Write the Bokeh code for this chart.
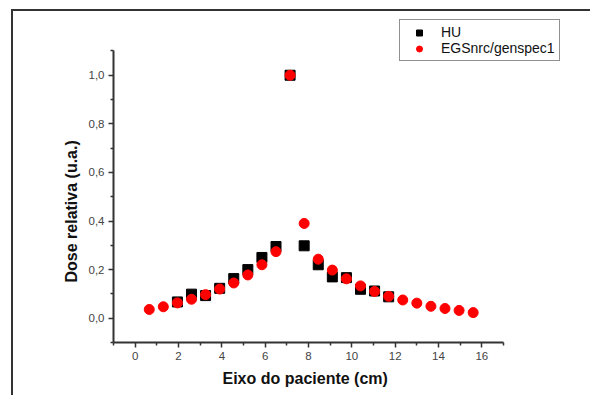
from bokeh.plotting import figure
from bokeh.models import FixedTicker, CustomJSTickFormatter, Legend, LegendItem, Range1d, Title
from bokeh.embed import file_html
from bokeh.resources import INLINE

# Data
egs_x = [0.65, 1.30, 1.95, 2.60, 3.25, 3.90, 4.55, 5.20, 5.85, 6.50, 7.15, 7.80,
         8.45, 9.10, 9.75, 10.40, 11.05, 11.70, 12.35, 13.00, 13.65, 14.30, 14.95, 15.60]
egs_y = [0.036, 0.047, 0.063, 0.078, 0.097, 0.120, 0.145, 0.178, 0.220, 0.274, 1.000, 0.390,
         0.243, 0.198, 0.162, 0.133, 0.110, 0.090, 0.075, 0.062, 0.049, 0.040, 0.032, 0.023]

hu_x = [1.95, 2.60, 3.25, 3.90, 4.55, 5.20, 5.85, 6.50, 7.15, 7.80,
        8.45, 9.10, 9.75, 10.40, 11.05, 11.70]
hu_y = [0.067, 0.099, 0.093, 0.123, 0.163, 0.200, 0.250, 0.295, 1.000, 0.298,
        0.220, 0.170, 0.167, 0.119, 0.112, 0.088]

x_major = [0, 2, 4, 6, 8, 10, 12, 14, 16]
x_minor = [-1, 1, 3, 5, 7, 9, 11, 13, 15, 17]
y_major = [0.0, 0.2, 0.4, 0.6, 0.8, 1.0]
y_minor = [-0.1, 0.1, 0.3, 0.5, 0.7, 0.9, 1.1]
x_bounds = (-1, 17)
y_bounds = (-0.1, 1.1)

x_title = "Eixo do paciente (cm)"
y_title = "Dose relativa (u.a.)"
series_names = ["HU", "EGSnrc/genspec1"]

FONT = "Liberation Sans"
AX = "#333333"

p = figure(output_backend="svg", toolbar_location=None,
           frame_width=455, frame_height=328,
           min_border_left=100, min_border_right=22, min_border_top=3, min_border_bottom=53,
           x_range=Range1d(-1, 20), y_range=Range1d(-0.1, 1.25))
p.styles = {"border-top": "2px solid #333", "border-left": "2px solid #333",
            "margin-left": "11px", "margin-top": "9px"}
p.outline_line_color = None
p.xgrid.visible = False
p.ygrid.visible = False

r_hu = p.scatter(hu_x, hu_y, marker="square", size=10, color="black")
r_egs = p.scatter(egs_x, egs_y, marker="circle", size=10, color="red")

p.xaxis.ticker = FixedTicker(ticks=x_major, minor_ticks=x_minor)
p.yaxis.ticker = FixedTicker(ticks=y_major, minor_ticks=y_minor)
p.xaxis.bounds = x_bounds
p.yaxis.bounds = y_bounds
p.xaxis.formatter = CustomJSTickFormatter(code="return tick.toFixed(0);")
p.yaxis.formatter = CustomJSTickFormatter(code="return tick.toFixed(1).replace('.', ',');")

for ax in (p.xaxis[0], p.yaxis[0]):
    ax.axis_line_color = AX
    ax.axis_line_width = 2
    ax.major_tick_line_color = AX
    ax.major_tick_line_width = 1.5
    ax.minor_tick_line_color = AX
    ax.minor_tick_line_width = 1.5
    ax.major_tick_in = 0
    ax.major_tick_out = 5
    ax.minor_tick_in = 0
    ax.minor_tick_out = 3
    ax.major_label_text_font = FONT
    ax.major_label_text_font_size = "11.5px"
    ax.major_label_text_color = "#444444"
p.xaxis.major_label_standoff = 4
p.yaxis.major_label_standoff = 4

# axis titles (as Title annotations so they can be placed along the axis bounds)
xt = Title(text=x_title, align="left", offset=109, standoff=11,
           text_font=FONT, text_font_size="16px", text_font_style="bold", text_color="#111111")
yt = Title(text=y_title, align="left", offset=60, standoff=11,
           text_font=FONT, text_font_size="16px", text_font_style="bold", text_color="#111111")
p.add_layout(xt, "below")
p.add_layout(yt, "left")

legend = Legend(items=[LegendItem(label=series_names[0], renderers=[r_hu]),
                       LegendItem(label=series_names[1], renderers=[r_egs])],
                location=(286, 281))
legend.border_line_color = "#222222"
legend.border_line_width = 1
legend.background_fill_alpha = 1
legend.label_text_font = FONT
legend.label_text_font_size = "14px"
legend.label_text_color = "#111111"
legend.glyph_width = 30
legend.glyph_height = 15
legend.label_height = 15
legend.spacing = 0
legend.padding = 4
legend.margin = 0
legend.label_standoff = 7
p.add_layout(legend, "center")

open("out.html", "w").write(file_html(p, INLINE))
